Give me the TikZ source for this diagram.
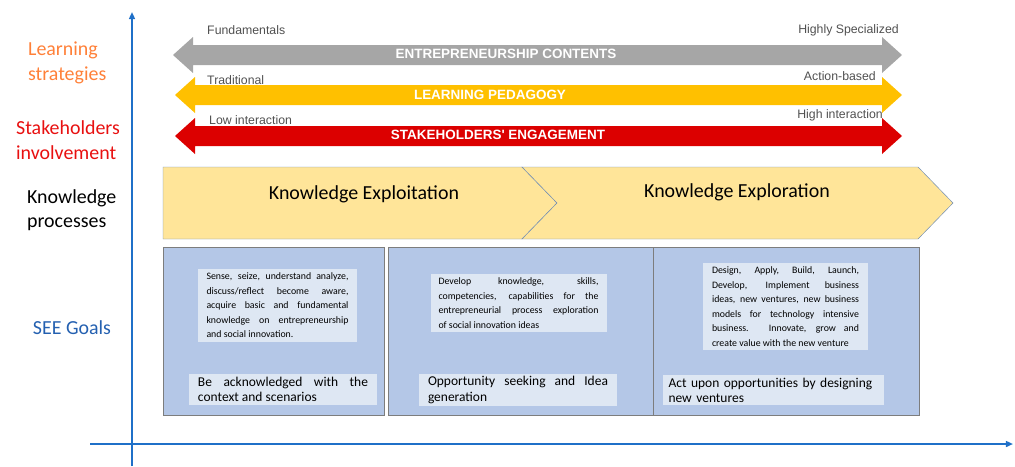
\documentclass[tikz,border=0pt]{standalone}
\usepackage{fontspec}
\setmainfont{Carlito}
\newfontfamily\arialfont{Liberation Sans}
\usetikzlibrary{arrows.meta}

\definecolor{axisblue}{RGB}{31,112,200}
\definecolor{learnorange}{RGB}{255,128,56}
\definecolor{stakered}{RGB}{232,16,16}
\definecolor{goaltext}{RGB}{36,96,176}
\definecolor{arrowgray}{RGB}{166,166,166}
\definecolor{arrowyellow}{RGB}{255,192,0}
\definecolor{arrowred}{RGB}{220,0,0}
\definecolor{labelgray}{RGB}{80,80,80}
\definecolor{chevronfill}{RGB}{255,229,153}
\definecolor{chevronline}{RGB}{110,140,180}
\definecolor{goalfill}{RGB}{180,199,231}
\definecolor{goalline}{RGB}{125,125,125}
\definecolor{notefill}{RGB}{222,231,243}

\begin{document}
\begin{tikzpicture}[x=0.03cm,y=-0.03cm]
  \useasboundingbox (0,0) rectangle (1015,466);

  \tikzset{
    sidelabel/.style={align=left, anchor=west, font=\fontsize{17}{21}\selectfont},
    endlabel/.style={font=\arialfont\fontsize{10.5}{12}\selectfont, text=labelgray, inner sep=0pt},
    bandlabel/.style={font=\arialfont\bfseries\fontsize{11.5}{13}\selectfont, text=white, inner sep=0pt},
    processlabel/.style={font=\fontsize{17}{20}\selectfont},
    goalbox/.style={draw=goalline, fill=goalfill, minimum height=5.04cm, inner sep=0pt},
    notebox/.style={fill=notefill, align=justify, inner xsep=0.24cm, inner ysep=0.12cm,
      font=\fontsize{8.4}{12.4}\selectfont},
    aimbox/.style={fill=notefill, align=justify, inner xsep=0.28cm, inner ysep=0.09cm,
      font=\fontsize{11.5}{13}\selectfont},
    axis/.style={axisblue, line width=1.6pt, -{Triangle[length=6pt,width=5pt]}}
  }

  % axes
  \coordinate (yb) at (132,466);
  \coordinate (yt) at (132,12);
  \coordinate (xl) at (90,444);
  \coordinate (xr) at (1013,444);
  \draw[axis] (yb) -- (yt);
  \draw[axis] (xl) -- (xr);

  % side labels
  \node[sidelabel, text=learnorange] (ls) at (24,63) {Learning\\strategies};
  \node[sidelabel, text=stakered] (si) at (12,140) {Stakeholders\\involvement};
  \node[sidelabel] (kp) at (23,210) {Knowledge\\processes};
  \node[font=\fontsize{17}{21}\selectfont, text=goaltext] (sg) at (72,328) {SEE Goals};

  % bands
  \fill[arrowgray] (173,55) -- (193,37) -- (193,45) -- (882,45) -- (882,37) -- (902,55)
    -- (882,73) -- (882,65) -- (193,65) -- (193,73) -- cycle;
  \fill[arrowyellow] (175,95) -- (195,77) -- (195,85) -- (882,85) -- (882,77) -- (902,95)
    -- (882,113) -- (882,105) -- (195,105) -- (195,113) -- cycle;
  \fill[arrowred] (175,136) -- (195,118) -- (195,126) -- (882,126) -- (882,118) -- (902,136)
    -- (882,154) -- (882,146) -- (195,146) -- (195,154) -- cycle;

  \node[bandlabel] (ec) at (506,54) {ENTREPRENEURSHIP CONTENTS};
  \node[bandlabel] (lp) at (490,95) {LEARNING PEDAGOGY};
  \node[bandlabel] (se) at (498,135) {STAKEHOLDERS' ENGAGEMENT};

  \node[endlabel, anchor=west] (fu) at (207,30) {Fundamentals};
  \node[endlabel, anchor=east] (hs) at (899,30) {Highly Specialized};
  \node[endlabel, anchor=west] (tr) at (207,80) {Traditional};
  \node[endlabel, anchor=east] (ab) at (876,76) {Action-based};
  \node[endlabel, anchor=west] (li) at (209,120) {Low interaction};
  \node[endlabel, anchor=east] (hi) at (883,115) {High interaction};

  % knowledge processes
  \draw[chevronline, fill=chevronfill] (163,167) -- (522,167) -- (557,203) -- (522,239)
    -- (163,239) -- cycle;
  \draw[chevronline, fill=chevronfill] (522,167) -- (918,167) -- (953,203) -- (918,239)
    -- (522,239) -- (557,203) -- cycle;
  \node[processlabel] (kx) at (364,194) {Knowledge Exploitation};
  \node[processlabel] (kr) at (737,192) {Knowledge Exploration};

  % goals
  \node[goalbox, minimum width=6.63cm] (g1) at (273.5,331) {};
  \node[goalbox, minimum width=7.95cm] (g2) at (520.5,331) {};
  \node[goalbox, minimum width=7.98cm] (g3) at (786,331) {};

  \node[notebox, text width=4.26cm] (n1) at (277.5,305.5)
    {Sense, seize, understand analyze,\linebreak discuss/reflect become aware,\linebreak
     acquire basic and fundamental\linebreak knowledge on entrepreneurship\linebreak
     and social innovation.};
  \node[notebox, text width=4.8cm] (n2) at (518.5,303)
    {Develop knowledge, skills,\linebreak competencies, capabilities for the\linebreak
     entrepreneurial process exploration\linebreak of social innovation ideas};
  \node[notebox, text width=4.41cm, inner xsep=0.27cm] (n3) at (785.5,306.5)
    {Design, Apply, Build, Launch,\linebreak Develop, Implement business\linebreak
     ideas, new ventures, new business\linebreak models for technology intensive\linebreak
     business. Innovate, grow and\linebreak create value with the new venture};

  \node[aimbox, text width=5.1cm] (a1) at (283,389.5)
    {Be acknowledged with the\linebreak context and scenarios};
  \node[aimbox, text width=5.4cm] (a2) at (518,390)
    {Opportunity seeking and Idea\linebreak generation};
  \node[aimbox, text width=6.3cm, inner xsep=0.16cm, align=left] (a3) at (773.5,390)
    {Act upon opportunities by designing\\new ventures};
\end{tikzpicture}
\end{document}
